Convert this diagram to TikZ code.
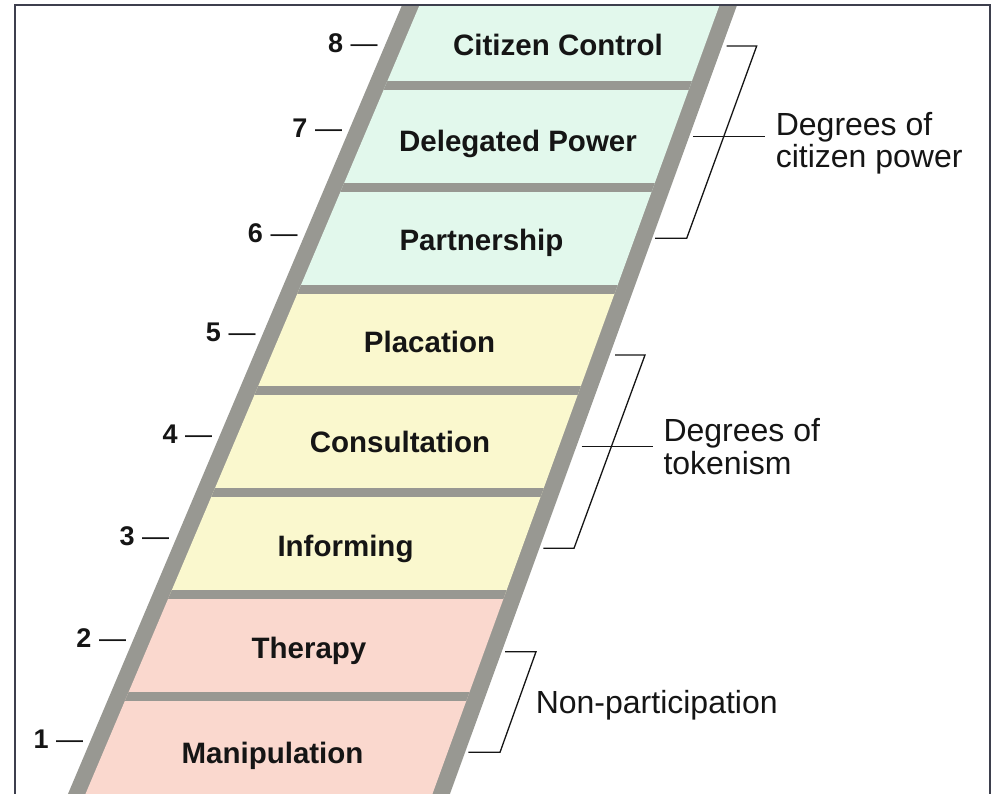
\documentclass[tikz,border=0pt]{standalone}
\usepackage{fontspec}
\setmainfont{Liberation Sans}
\definecolor{railgray}{HTML}{989892}
\definecolor{powercell}{HTML}{E2F8EC}
\definecolor{tokencell}{HTML}{FAF8CE}
\definecolor{noncell}{HTML}{FAD8CE}
\definecolor{framecol}{HTML}{3D3F4D}
\definecolor{ink}{HTML}{151515}
\tikzset{
  rungtext/.style={font=\bfseries\fontsize{29.5}{32}\selectfont, text=ink,
    text height=21pt, text depth=0pt, inner sep=0pt},
  steptag/.style={font=\fontsize{27}{29}\selectfont, text=ink,
    text height=19.3pt, text depth=0pt, inner sep=0pt, anchor=east},
  grouplabel/.style={font=\fontsize{32}{32.5}\selectfont, text=ink,
    align=left, inner sep=0pt, anchor=north west},
  brace/.style={draw=ink, line width=1.3pt},
}

\begin{document}
\begin{tikzpicture}[x=1pt,y=-1pt]
  \useasboundingbox (0,0) rectangle (992,794);
  % ladder: rails, then cells and rungs
  \begin{scope}
    \clip (15,6.5) rectangle (989,800);
    \fill[railgray] (416.9,-30) -- (749.8,-30) -- (436.8,830) -- (52.7,830) -- cycle;
    \begin{scope}
      \clip (434.4,-30) -- (732.3,-30) -- (419.3,830) -- (70.2,830) -- cycle;
      \fill[powercell] (0,-30) rectangle (992,289.2);
      \fill[tokencell] (0,289.2) rectangle (992,594.3);
      \fill[noncell] (0,594.3) rectangle (992,830);
      \foreach \r in {85.8,187.5,289.2,390.9,492.6,594.3,696}
        \fill[railgray] (0,\r-4.5) rectangle (992,\r+4.5);
    \end{scope}
  \end{scope}
  \draw[framecol, line width=2pt] (15,5.5) rectangle (990,820);

  % rungs
  \node[rungtext] (citizencontrol) at (558,45) {Citizen Control};
  \node[rungtext] (delegated) at (518,141) {Delegated Power};
  \node[rungtext] (partnership) at (481.5,240) {Partnership};
  \node[rungtext] (placation) at (429.5,342) {Placation};
  \node[rungtext] (consultation) at (400,442) {Consultation};
  \node[rungtext] (informing) at (345.5,546) {Informing};
  \node[rungtext] (therapy) at (309,648) {Therapy};
  \node[rungtext] (manipulation) at (272.5,753) {Manipulation};

  % step numbers
  \node[steptag] (n8) at (377.9,43.3) {\textbf{8} —};
  \node[steptag] (n7) at (342.2,127.5) {\textbf{7} —};
  \node[steptag] (n6) at (297.7,232.5) {\textbf{6} —};
  \node[steptag] (n5) at (255.7,331.7) {\textbf{5} —};
  \node[steptag] (n4) at (212.4,434) {\textbf{4} —};
  \node[steptag] (n3) at (169.4,535.5) {\textbf{3} —};
  \node[steptag] (n2) at (126.2,637.5) {\textbf{2} —};
  \node[steptag] (n1) at (83.3,738.8) {\textbf{1} —};

  % groups
  \node[grouplabel] (powerlbl) at (775.6,112) {Degrees of\\citizen power};
  \node[grouplabel] (tokenlbl) at (663.3,418.5) {Degrees of\\tokenism};
  \node[grouplabel] (nonlbl) at (535.6,690) {Non-participation};

  \coordinate (powertick) at (693.3,136.7);
  \coordinate (tokentick) at (581.7,446.7);
  \draw[brace] (726.7,46) -- (756.7,46) -- (686.7,238.3) -- (655,238.3);
  \draw[brace] (powertick) -- ([xshift=-10.6pt]powertick -| powerlbl.west);
  \draw[brace] (615,355) -- (645,355) -- (574,548.3) -- (543.3,548.3);
  \draw[brace] (tokentick) -- ([xshift=-10.6pt]tokentick -| tokenlbl.west);
  \draw[brace] (505,651.7) -- (536,651.7) -- (500,752.3) -- (468.3,752.3);
\end{tikzpicture}
\end{document}
